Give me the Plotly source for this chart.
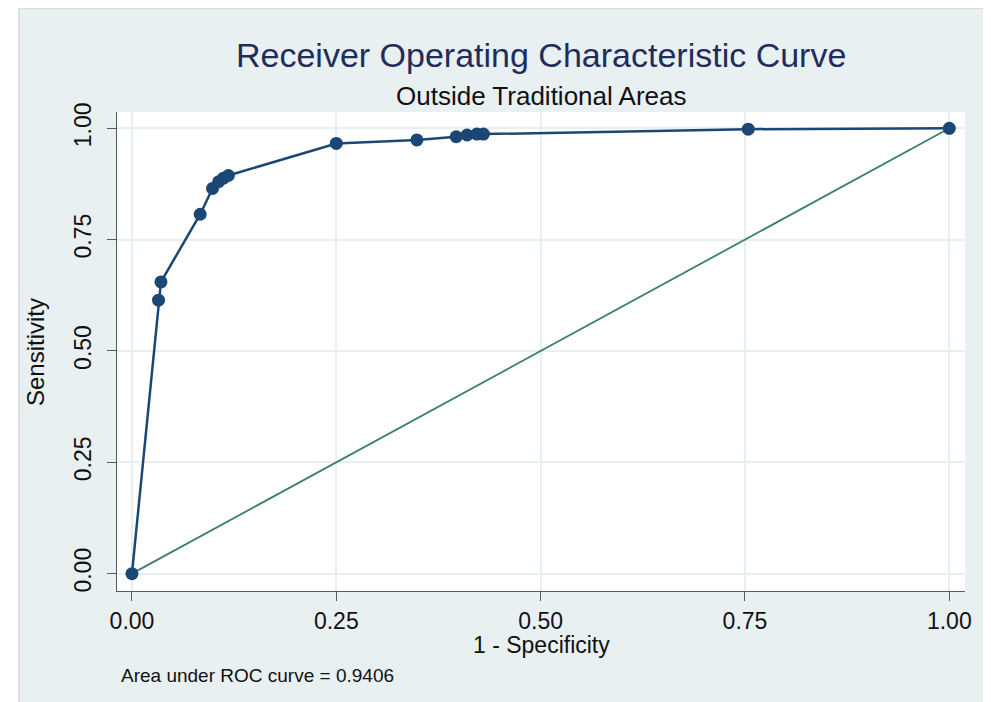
import plotly.graph_objects as go

# ROC data (1 - specificity, sensitivity)
fpr = [0.0, 0.0325, 0.0355, 0.0835, 0.0986, 0.106, 0.112, 0.118, 0.25, 0.3486,
       0.3967, 0.410, 0.422, 0.430, 0.754, 1.0]
tpr = [0.0, 0.614, 0.655, 0.807, 0.865, 0.880, 0.888, 0.894, 0.966, 0.974,
       0.981, 0.985, 0.987, 0.987, 0.998, 1.0]
ref_x = [0.0, 1.0]
ref_y = [0.0, 1.0]
tick_vals = [0.0, 0.25, 0.5, 0.75, 1.0]
tick_text = ["0.00", "0.25", "0.50", "0.75", "1.00"]

title_text = "Receiver Operating Characteristic Curve"
subtitle_text = "Outside Traditional Areas"
note_text = "Area under ROC curve = 0.9406"

# page body has an 8px margin; work in page pixels and convert
OFF = 8
W, H = 991 - OFF, 702 - OFF
L, T, R, B = 117 - OFF, 112 - OFF, 965 - OFF, 591 - OFF
pw, ph = R - L, B - T

def px_x(p):
    return (p - OFF - L) / pw

def px_y(p):
    return (B - (p - OFF)) / ph

FONT = "Liberation Sans, Arial, Helvetica, sans-serif"
BG = "#e9f0f2"
GRID = "#e6eff1"
NAVY = "#1b4775"
TEAL = "#3a7f6f"

fig = go.Figure()
fig.add_trace(go.Scatter(x=ref_x, y=ref_y, mode="lines",
                         line=dict(color=TEAL, width=1.8), hoverinfo="skip",
                         showlegend=False))
fig.add_trace(go.Scatter(x=fpr, y=tpr, mode="lines+markers",
                         line=dict(color=NAVY, width=2.5),
                         marker=dict(color=NAVY, size=13),
                         showlegend=False))

shapes = [
    dict(type="rect", xref="paper", yref="paper",
         x0=px_x(19), x1=px_x(1000), y0=px_y(710), y1=px_y(8),
         fillcolor=BG, line=dict(color="#c4c8ca", width=1), layer="below"),
    dict(type="rect", xref="paper", yref="paper",
         x0=0, x1=1, y0=0, y1=1,
         fillcolor="white", line=dict(width=0), layer="below"),
]

annotations = [
    dict(text=title_text, x=0.5, y=px_y(55), xref="paper", yref="paper",
         showarrow=False, xanchor="center", yanchor="middle",
         font=dict(family=FONT, size=34, color="#1f2d5c")),
    dict(text=subtitle_text, x=0.5, y=px_y(96), xref="paper", yref="paper",
         showarrow=False, xanchor="center", yanchor="middle",
         font=dict(family=FONT, size=26, color="#111111")),
    dict(text="1 - Specificity", x=0.5, y=px_y(645), xref="paper", yref="paper",
         showarrow=False, xanchor="center", yanchor="middle",
         font=dict(family=FONT, size=23, color="#111111")),
    dict(text="Sensitivity", x=px_x(35), y=px_y(352), xref="paper", yref="paper",
         showarrow=False, xanchor="center", yanchor="middle", textangle=-90,
         font=dict(family=FONT, size=24, color="#111111")),
    dict(text=note_text, x=px_x(119), y=px_y(675), xref="paper", yref="paper",
         showarrow=False, xanchor="left", yanchor="middle",
         font=dict(family=FONT, size=19, color="#111111")),
]

axis_common = dict(
    tickvals=tick_vals, ticktext=tick_text,
    showgrid=True, gridcolor=GRID, gridwidth=1.8,
    zeroline=False, showline=True, linecolor="#5a5a5a", linewidth=1.3,
    ticks="outside", ticklen=9, tickwidth=1.3, tickcolor="#5a5a5a",
    tickfont=dict(family=FONT, size=23, color="#111111"),
    fixedrange=True,
)

fig.update_layout(
    width=W, height=H,
    margin=dict(l=L, r=W - R, t=T, b=H - B, pad=0),
    paper_bgcolor="white", plot_bgcolor="rgba(0,0,0,0)",
    shapes=shapes, annotations=annotations,
    xaxis=dict(range=[-0.0183, 1.0192], **axis_common),
    yaxis=dict(range=[-0.039, 1.0366], tickangle=-90, ticklabelstandoff=7,
               **axis_common),
    showlegend=False,
)

fig.write_html("out.html", config={"displayModeBar": False})
